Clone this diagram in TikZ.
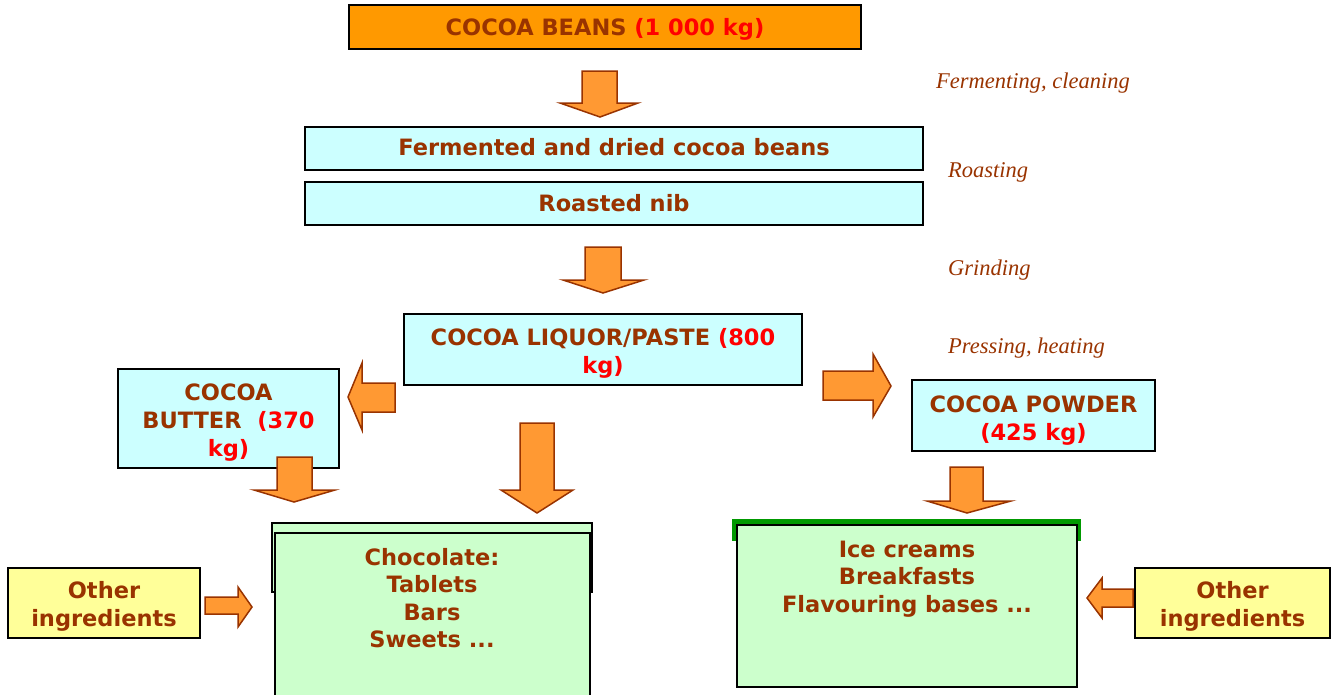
\documentclass[tikz,border=0pt]{standalone}
\usepackage{fontspec}
\setmainfont{DejaVu Sans}
\newfontfamily\stepfont{Liberation Serif}
\usepackage{xcolor}
\usetikzlibrary{positioning}

\definecolor{cocoabrown}{HTML}{993300}
\definecolor{qtyred}{HTML}{FF0000}
\definecolor{beanorange}{HTML}{FF9900}
\definecolor{palecyan}{HTML}{CCFFFF}
\definecolor{palegreen}{HTML}{CCFFCC}
\definecolor{paleyellow}{HTML}{FFFF99}
\definecolor{arroworange}{HTML}{FF9933}
\definecolor{bandgreen}{HTML}{009900}

\newcommand{\qty}[1]{{\color{qtyred}#1}}
% box text sits a little below the middle of its box
\newcommand{\lowered}[2][4pt]{\raisebox{-#1}[\height][\depth]{\begin{tabular}{@{}c@{}}#2\end{tabular}}}

\begin{document}
\begin{tikzpicture}[x=1pt, y=-1pt, line join=miter]
        \tikzstyle{box} = [rectangle, draw=black, line width=2pt, inner sep=0pt, align=center, text=cocoabrown, font=\fontsize{22.5}{28}\selectfont\bfseries]
        \tikzstyle{stage} = [fill=palecyan, box]
        \tikzstyle{product} = [fill=palegreen, box]
        \tikzstyle{extra} = [fill=paleyellow, box]
        \tikzstyle{steplabel} = [anchor=base west, inner sep=0pt, text=cocoabrown, font=\stepfont\fontsize{22.5}{27}\selectfont\itshape]
        \tikzstyle{fatarrow} = [fill=arroworange, draw=cocoabrown, line width=1.5pt]

        \clip (0,0) rectangle (1335,694);

        \node [box, fill=beanorange, minimum width=512pt, minimum height=44pt] (beans) at (605,27) {\lowered[3pt]{COCOA BEANS \qty{(1 000 kg)}}};
        \node [stage, minimum width=618pt, minimum height=43pt] (fermented) at (614,148.5) {\lowered[1.5pt]{Fermented and dried cocoa beans}};
        \node [stage, minimum width=618pt, minimum height=43pt] (nib) at (614,203.5) {\lowered[2pt]{Roasted nib}};
        \node [stage, minimum width=398pt, minimum height=71pt] (liquor) at (603,349.5) {\lowered{COCOA LIQUOR/PASTE \qty{(800}\\\qty{kg)}}};
        \node [stage, minimum width=221pt, minimum height=99pt] (butter) at (228.5,418.5) {\lowered{COCOA\\BUTTER\ \ \qty{(370}\\\qty{kg)}}};
        \node [stage, minimum width=243pt, minimum height=71pt] (powder) at (1033.5,415.5) {\lowered[5pt]{COCOA POWDER\\\qty{(425 kg)}}};

        % chocolate box sits on a second frame behind it
        \node [product, minimum width=320pt, minimum height=69pt] (chocoback) at (432,557.5) {};
        \node [product, line width=1.6pt, minimum width=315pt, minimum height=167pt] (choco) at (432.5,616.5) {};
        \node [text=cocoabrown, font=\fontsize{22.5}{27.5}\selectfont\bfseries, align=center] (chocotext) at (432,598) {Chocolate:\\Tablets\\Bars\\Sweets ...};

        % ice cream box with green band on top
        \fill [bandgreen] (732,519) rectangle (1081,541);
        \node [product, minimum width=340pt, minimum height=162pt] (ice) at (907,606) {};
        \node [text=cocoabrown, font=\fontsize{22.5}{27.5}\selectfont\bfseries, align=center] (icetext) at (907,579) {Ice creams\\Breakfasts\\Flavouring bases ...};

        \node [extra, minimum width=192pt, minimum height=70pt] (otherleft) at (104,603) {\lowered[3.5pt]{Other\\ingredients}};
        \node [extra, minimum width=195pt, minimum height=70pt] (otherright) at (1232.5,603) {\lowered[3.5pt]{Other\\ingredients}};

        % process steps
        \node [steplabel] (ferm) at (936,88) {Fermenting, cleaning};
        \node [steplabel] (roast) at (948,177) {Roasting};
        \node [steplabel] (grind) at (948,275) {Grinding};
        \node [steplabel] (press) at (948,353) {Pressing, heating};

        % block arrows
        \draw [fatarrow] (582,71) -- (617,71) -- (617,103) -- (638,103) -- (600,117) -- (560,103) -- (582,103) -- cycle;
        \draw [fatarrow] (585,247) -- (621,247) -- (621,280) -- (644,280) -- (603,293) -- (563,280) -- (585,280) -- cycle;
        \draw [fatarrow] (395,383) -- (362,383) -- (362,363) -- (348,397) -- (362,430) -- (362,412) -- (395,412) -- cycle;
        \draw [fatarrow] (823,371) -- (873,371) -- (873,354) -- (891,386) -- (873,417) -- (873,400) -- (823,400) -- cycle;
        \draw [fatarrow] (277,457) -- (312,457) -- (312,490) -- (335,490) -- (294,502) -- (254,490) -- (277,490) -- cycle;
        \draw [fatarrow] (520,423) -- (554,423) -- (554,490) -- (573,490) -- (537,513) -- (501,490) -- (520,490) -- cycle;
        \draw [fatarrow] (950,467) -- (983,467) -- (983,501) -- (1011,501) -- (967,513) -- (927,501) -- (950,501) -- cycle;
        \draw [fatarrow] (205,597) -- (238,597) -- (238,587) -- (252,607) -- (238,627) -- (238,614) -- (205,614) -- cycle;
        \draw [fatarrow] (1133,589) -- (1102,589) -- (1102,578) -- (1087,598) -- (1102,618) -- (1102,607) -- (1133,607) -- cycle;
    \end{tikzpicture}
\end{document}
